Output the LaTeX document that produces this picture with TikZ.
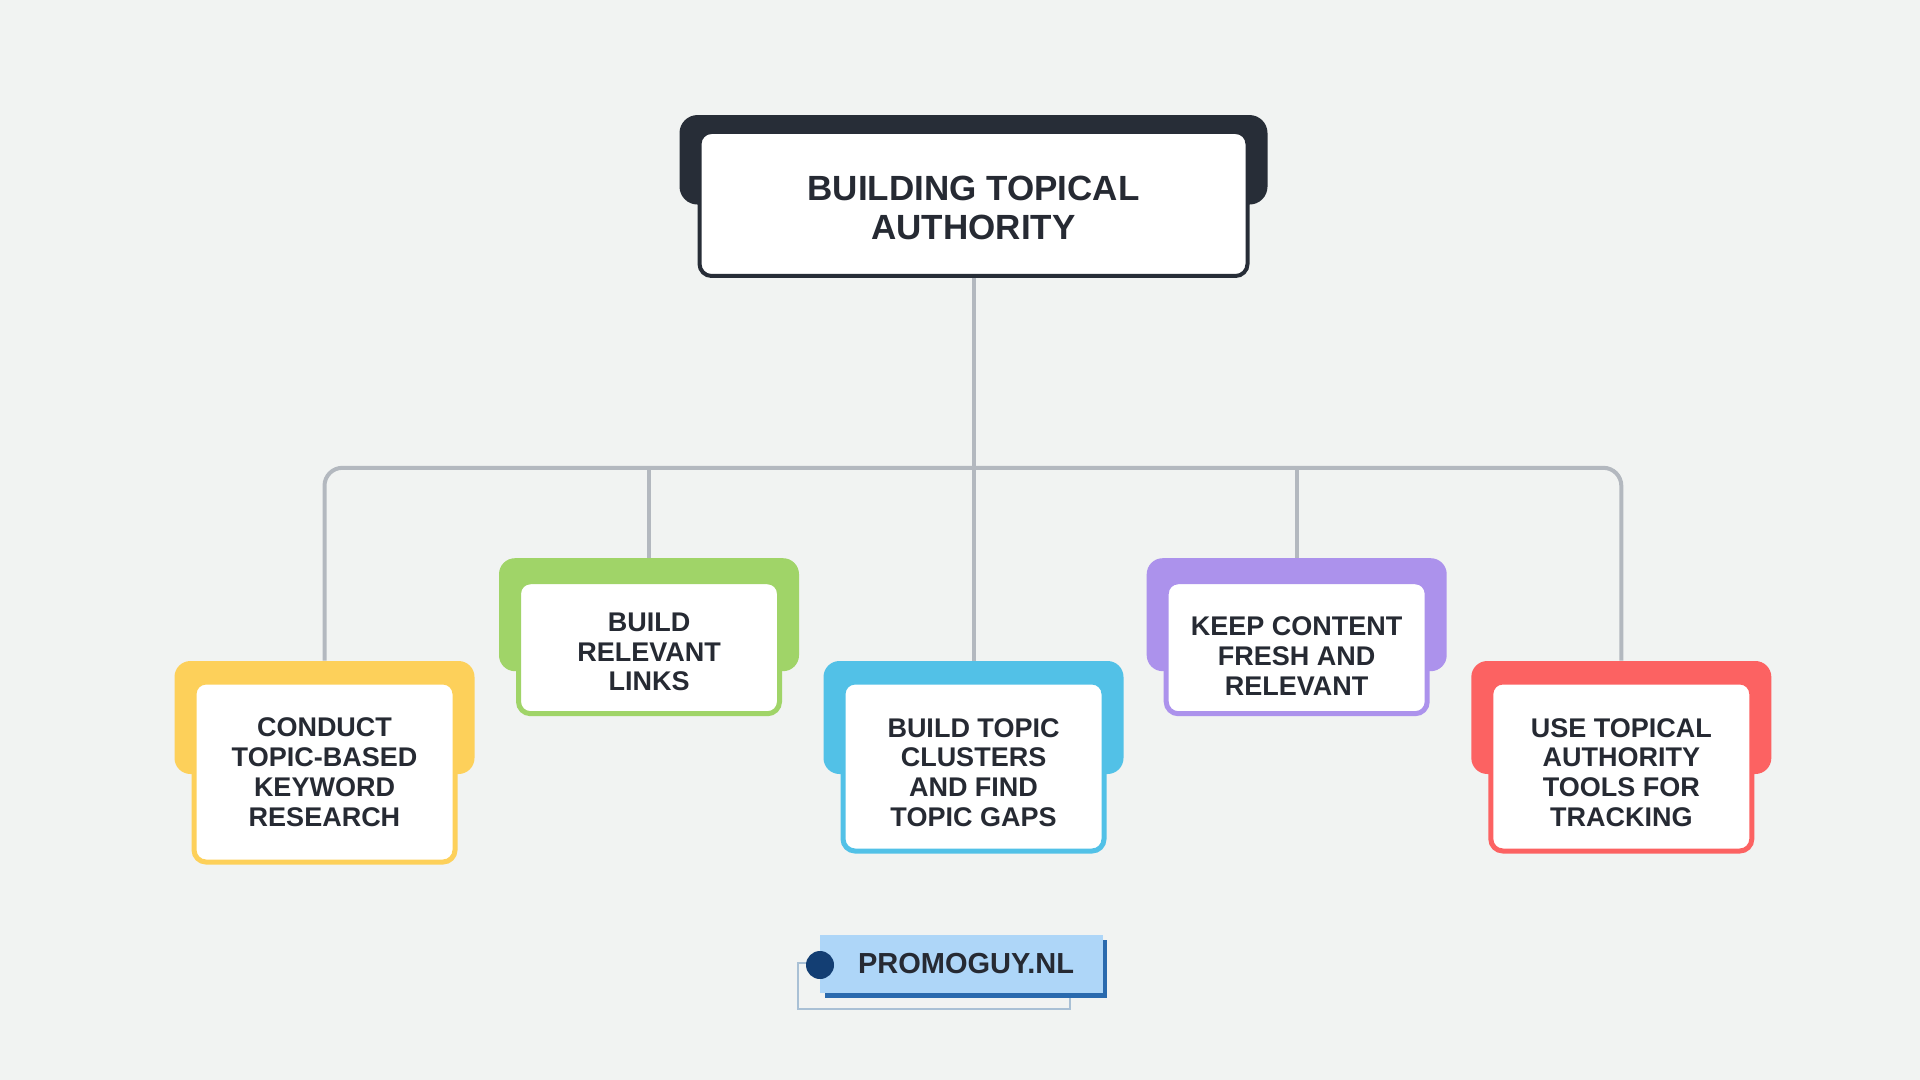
\documentclass[tikz,border=0pt]{standalone}
\usepackage{fontspec}
\setmainfont{Liberation Sans}
\definecolor{bg}{HTML}{F1F3F2}
\definecolor{ink}{HTML}{262A33}
\definecolor{darkback}{HTML}{272D37}
\definecolor{linegray}{HTML}{B3B8BF}
\definecolor{cyellow}{HTML}{FDD05A}
\definecolor{cgreen}{HTML}{A0D468}
\definecolor{cblue}{HTML}{52C1E7}
\definecolor{cpurple}{HTML}{AC92EC}
\definecolor{cred}{HTML}{FC6262}
\definecolor{lightblue}{HTML}{AED6F8}
\definecolor{shadowblue}{HTML}{2A6AAE}
\definecolor{dotblue}{HTML}{133E73}
\definecolor{outlineblue}{HTML}{A9C0D5}
\tikzset{
  backshape/.style={fill=#1, rounded corners=8pt, minimum width=150pt, minimum height=56.5pt, inner sep=0pt},
  card/.style={draw=#1, line width=2.5pt, fill=white, rounded corners=6pt, minimum width=130.5pt, inner sep=0pt},
  cardtext/.style={align=center, font=\bfseries\fontsize{13.5}{14.9}\selectfont, text=ink, inner sep=0pt},
  conn/.style={draw=linegray, line width=2pt},
}
\begin{document}
\begin{tikzpicture}[x=0.5pt,y=-0.5pt]
\fill[bg] (0,0) rectangle (1920,1080);
\useasboundingbox (0,0) rectangle (1920,1080);

% back shapes
\node[backshape=darkback, minimum width=294pt, minimum height=44.75pt, rounded corners=9pt] (topback) at (973.5,159.8) {};
\node[backshape=cyellow] (b1) at (324.5,717.5) {};
\node[backshape=cgreen] (b2) at (649,614.7) {};
\node[backshape=cblue] (b3) at (973.5,717.5) {};
\node[backshape=cpurple] (b4) at (1296.7,614.7) {};
\node[backshape=cred] (b5) at (1621.3,717.5) {};

% top card
\node[draw=darkback, line width=2pt, fill=white, rounded corners=6pt, minimum width=274pt, minimum height=72pt, inner sep=0pt]
  (top) at (973.5,204) {};
\node[align=center, font=\bfseries\fontsize{17.5}{19.6}\selectfont, text=ink, inner sep=0pt]
  (toptext) at (973.5,208) {BUILDING TOPICAL\\AUTHORITY};

% connectors
\coordinate (bar) at (973.5,467.8);
\draw[conn, rounded corners=9pt] (b1.north) -- (b1.north |- bar) -- (b5.north |- bar) -- (b5.north);
\draw[conn] (b2.north |- bar) -- (b2.north);
\draw[conn] (b4.north |- bar) -- (b4.north);
\draw[conn] (top.south) -- (b3.north);

% cards
\node[card=cyellow, minimum height=90pt] (c1) at (324.5,772) {};
\node[card=cgreen, minimum height=66pt] (c2) at (649,647.7) {};
\node[card=cblue, minimum height=84.5pt] (c3) at (973.5,766.5) {};
\node[card=cpurple, minimum height=66pt] (c4) at (1296.7,647.7) {};
\node[card=cred, minimum height=84.5pt] (c5) at (1621.3,766.5) {};

\node[cardtext] (t1) at (324.5,772) {CONDUCT\\TOPIC-BASED\\KEYWORD\\RESEARCH};
\node[cardtext] (t2) at (649,652) {BUILD\\RELEVANT\\LINKS};
\node[cardtext] (t3) at (973.5,772.5) {BUILD TOPIC\\CLUSTERS\\AND FIND\\TOPIC GAPS};
\node[cardtext] (t4) at (1296.7,656) {KEEP CONTENT\\FRESH AND\\RELEVANT};
\node[cardtext] (t5) at (1621.3,772.5) {USE TOPICAL\\AUTHORITY\\TOOLS FOR\\TRACKING};

% logo
\draw[outlineblue, line width=0.6pt] (798,963) rectangle (1070,1009);
\fill[shadowblue] (825,940) rectangle (1107,998);
\node[fill=lightblue, minimum width=141.5pt, minimum height=29pt, inner sep=0pt] (logo) at (961.5,964) {};
\node[font=\bfseries\fontsize{14.5}{16}\selectfont, text=ink, inner sep=0pt] (logotext) at (966,964) {PROMOGUY.NL};
\fill[dotblue] (820,965) circle[radius=14];
\end{tikzpicture}
\end{document}
